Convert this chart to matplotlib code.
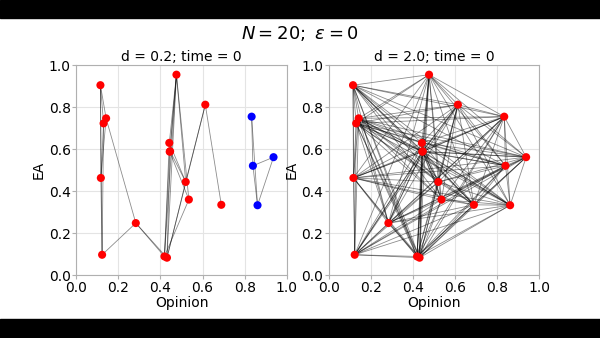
import itertools
import matplotlib
matplotlib.use("Agg")
import matplotlib.pyplot as plt
from matplotlib.patches import Rectangle

# agent states: opinion (x) and EA (y)
opinion = [0.115, 0.130, 0.142, 0.117, 0.123, 0.283, 0.419, 0.431, 0.442, 0.444,
           0.476, 0.520, 0.535, 0.613, 0.689, 0.833, 0.839, 0.861, 0.937, 0.446]
ea = [0.905, 0.723, 0.747, 0.463, 0.097, 0.248, 0.089, 0.083, 0.630, 0.588,
      0.955, 0.444, 0.360, 0.812, 0.335, 0.755, 0.521, 0.333, 0.562, 0.590]
cluster_small_d = ['red'] * 15 + ['blue'] * 4 + ['red']
cluster_large_d = ['red'] * 20

# links for d = 0.2
links_small_d = [(0, 4), (0, 1), (0, 2), (0, 3), (1, 4), (1, 3), (2, 3), (2, 5), (3, 4),
                 (4, 5), (5, 6), (5, 7), (6, 8), (6, 9), (7, 10), (6, 10), (7, 11),
                 (6, 12), (7, 13), (8, 10), (9, 10), (8, 11), (9, 12), (19, 11),
                 (10, 12), (10, 11), (13, 11), (13, 14), (7, 19), (19, 10),
                 (15, 16), (15, 17), (16, 17), (16, 18), (17, 18)]
# for d = 2.0 every pair is within range
links_large_d = list(itertools.combinations(range(len(opinion)), 2))

panels = [("d = 0.2; time = 0", links_small_d, cluster_small_d),
          ("d = 2.0; time = 0", links_large_d, cluster_large_d)]

fig = plt.figure(figsize=(6, 3.38), dpi=100)
fig.patch.set_facecolor('white')
# letterbox bars
fig.patches.append(Rectangle((0, 0), 1, 19 / 338, transform=fig.transFigure,
                             color='black', zorder=0))
fig.patches.append(Rectangle((0, 1 - 18 / 338), 1, 18 / 338, transform=fig.transFigure,
                             color='black', zorder=0))

lefts = [0.127, 0.548]
for left, (title, links, colors) in zip(lefts, panels):
    ax = fig.add_axes([left, 0.186, 0.351, 0.621])
    for i, j in links:
        ax.plot([opinion[i], opinion[j]], [ea[i], ea[j]], color='black',
                lw=0.6, alpha=0.45, zorder=2)
    ax.scatter(opinion, ea, c=colors, s=34, zorder=3, linewidths=0)
    ax.set_xlim(0, 1)
    ax.set_ylim(0, 1)
    ax.set_xticks([0, 0.2, 0.4, 0.6, 0.8, 1.0])
    ax.set_yticks([0, 0.2, 0.4, 0.6, 0.8, 1.0])
    ax.grid(color='#e4e4e4', lw=0.8, zorder=0)
    for s in ax.spines.values():
        s.set_color('#b0b0b0')
    ax.tick_params(colors='#b0b0b0', labelcolor='black', labelsize=10, length=3, pad=1)
    ax.set_xlabel("Opinion", fontsize=10, labelpad=1)
    ax.set_ylabel("EA", fontsize=10, labelpad=2)
    ax.set_title(title, fontsize=10, pad=3)

fig.text(0.5, 0.902, r"$N = 20;\ \varepsilon = 0$", ha='center', va='center', fontsize=13)

fig.savefig("out.png", dpi=100)
